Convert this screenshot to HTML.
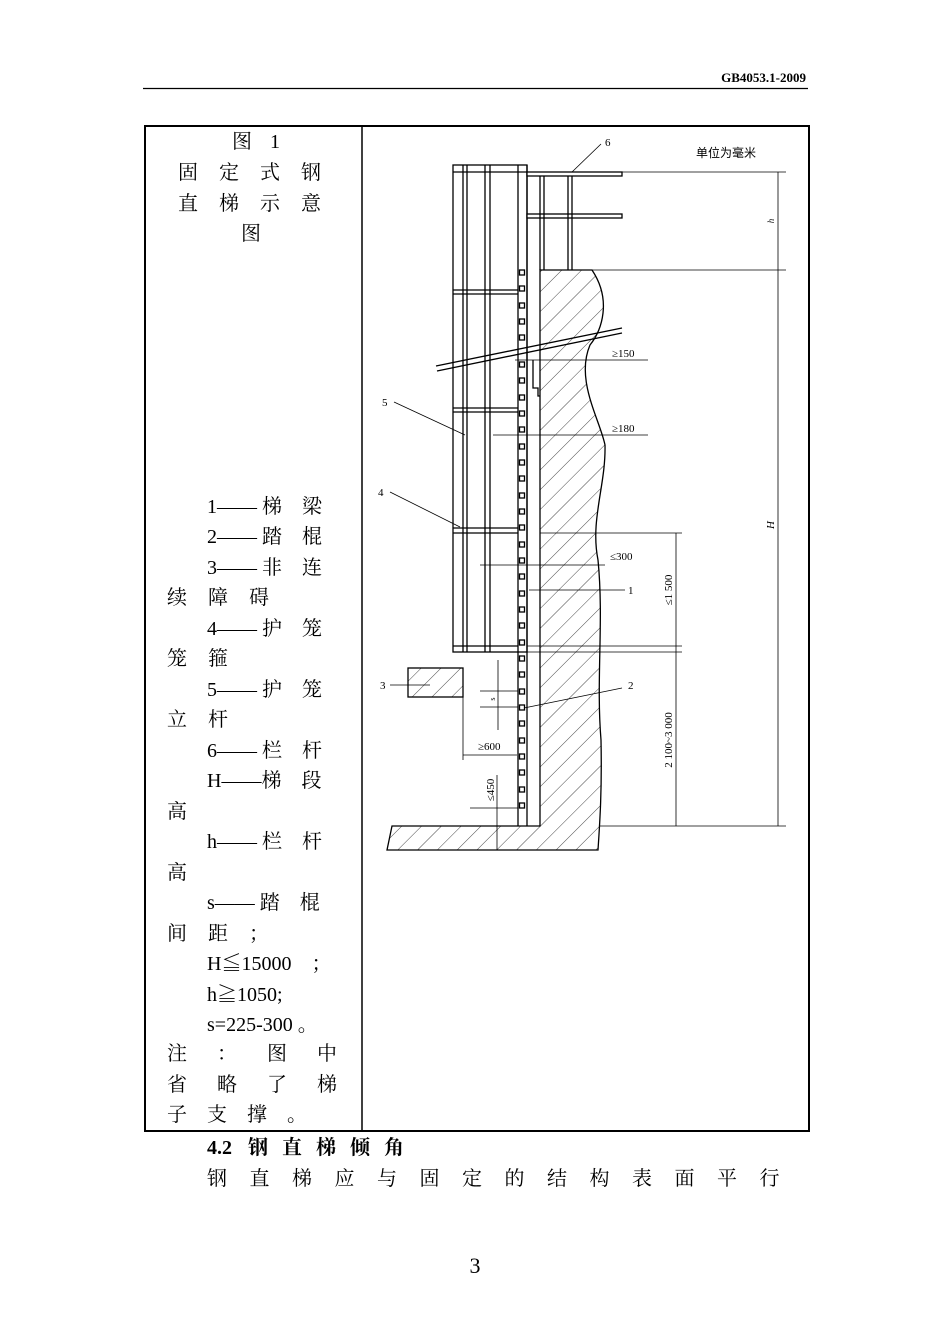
<!DOCTYPE html>
<html><head><meta charset="utf-8"><style>
body{margin:0;width:950px;height:1344px;background:#fff;position:relative;font-family:"Liberation Serif","Noto Serif CJK SC",serif;color:#000;overflow:hidden}
.t{position:absolute;font-size:20px;line-height:24px;white-space:pre}
</style></head><body>
<svg width="950" height="1344" style="position:absolute;left:0;top:0" xmlns="http://www.w3.org/2000/svg">
<defs>
<pattern id="h" patternUnits="userSpaceOnUse" width="14" height="14" patternTransform="rotate(45)">
<line x1="0" y1="0" x2="0" y2="14" stroke="#333" stroke-width="0.9"/></pattern>
</defs>
<text x="806" y="82" font-size="13" font-weight="bold" text-anchor="end" font-family="Liberation Serif">GB4053.1-2009</text>
<line x1="143" y1="88.5" x2="808" y2="88.5" stroke="#000" stroke-width="1.2"/>
<rect x="145" y="126" width="664" height="1005" fill="none" stroke="#000" stroke-width="2"/>
<line x1="362" y1="126" x2="362" y2="1131" stroke="#000" stroke-width="1.5"/>
<g stroke="#000" fill="none" stroke-width="1.3">
<path d="M540,270 L592,270 C612,300 602,330 590,345 C575,380 600,420 605,445 C606,485 590,520 598,560 C604,620 596,680 601,740 C602,790 600,820 598,850 L387,850 L392,826 L540,826 Z" fill="url(#h)"/>
<rect x="408" y="668" width="55" height="29" fill="url(#h)"/>
<rect x="453" y="165" width="74" height="487" fill="#fff"/>
<line x1="453" y1="172" x2="527" y2="172"/>
<line x1="463" y1="165" x2="463" y2="652"/><line x1="467" y1="165" x2="467" y2="652"/>
<line x1="485" y1="165" x2="485" y2="652"/><line x1="490" y1="165" x2="490" y2="652"/>
<line x1="453" y1="290" x2="518" y2="290"/><line x1="453" y1="294" x2="518" y2="294"/>
<line x1="453" y1="408" x2="518" y2="408"/><line x1="453" y1="412" x2="518" y2="412"/>
<line x1="453" y1="528" x2="518" y2="528"/><line x1="453" y1="533" x2="518" y2="533"/>
<line x1="453" y1="646" x2="518" y2="646"/>
<line x1="518" y1="165" x2="518" y2="826"/><line x1="527" y1="165" x2="527" y2="826"/>
<rect x="527" y="172" width="95" height="4" fill="#fff"/>
<rect x="527" y="214" width="95" height="4" fill="#fff"/>
<line x1="540" y1="176" x2="540" y2="270"/><line x1="544" y1="176" x2="544" y2="270"/>
<line x1="568" y1="176" x2="568" y2="270"/><line x1="572" y1="176" x2="572" y2="270"/>
<line x1="436" y1="366" x2="622" y2="328"/><line x1="437" y1="371" x2="622" y2="333"/>
<path d="M533,360 L533,388 L538,388 L538,396 L540,396"/>
</g>
<g fill="#fff" stroke="#000" stroke-width="1.3">
<rect x="519.5" y="270" width="5" height="5"/><rect x="519.5" y="286" width="5" height="5"/><rect x="519.5" y="303" width="5" height="5"/><rect x="519.5" y="319" width="5" height="5"/><rect x="519.5" y="335" width="5" height="5"/><rect x="519.5" y="362" width="5" height="5"/><rect x="519.5" y="378" width="5" height="5"/><rect x="519.5" y="395" width="5" height="5"/><rect x="519.5" y="411" width="5" height="5"/><rect x="519.5" y="427" width="5" height="5"/><rect x="519.5" y="444" width="5" height="5"/><rect x="519.5" y="460" width="5" height="5"/><rect x="519.5" y="476" width="5" height="5"/><rect x="519.5" y="493" width="5" height="5"/><rect x="519.5" y="509" width="5" height="5"/><rect x="519.5" y="525" width="5" height="5"/><rect x="519.5" y="542" width="5" height="5"/><rect x="519.5" y="558" width="5" height="5"/><rect x="519.5" y="574" width="5" height="5"/><rect x="519.5" y="591" width="5" height="5"/><rect x="519.5" y="607" width="5" height="5"/><rect x="519.5" y="623" width="5" height="5"/><rect x="519.5" y="640" width="5" height="5"/><rect x="519.5" y="656" width="5" height="5"/><rect x="519.5" y="672" width="5" height="5"/><rect x="519.5" y="689" width="5" height="5"/><rect x="519.5" y="705" width="5" height="5"/><rect x="519.5" y="721" width="5" height="5"/><rect x="519.5" y="738" width="5" height="5"/><rect x="519.5" y="754" width="5" height="5"/><rect x="519.5" y="770" width="5" height="5"/><rect x="519.5" y="787" width="5" height="5"/><rect x="519.5" y="803" width="5" height="5"/>
</g>
<g stroke="#000" stroke-width="0.8" fill="none">
<line x1="622" y1="172" x2="786" y2="172"/><line x1="592" y1="270" x2="786" y2="270"/><line x1="600" y1="826" x2="786" y2="826"/>
<line x1="778" y1="172" x2="778" y2="826"/>
<line x1="540" y1="533" x2="682" y2="533"/><line x1="527" y1="646" x2="682" y2="646"/><line x1="527" y1="652" x2="682" y2="652"/>
<line x1="676" y1="533" x2="676" y2="826"/>
<line x1="515" y1="360" x2="648" y2="360"/><line x1="493" y1="435" x2="648" y2="435"/><line x1="480" y1="565" x2="605" y2="565"/>
<line x1="529" y1="590" x2="625" y2="590"/><line x1="524" y1="708" x2="622" y2="688"/>
<line x1="390" y1="685" x2="430" y2="685"/>
<line x1="390" y1="492" x2="460" y2="527"/><line x1="394" y1="402" x2="465" y2="435"/><line x1="601" y1="144" x2="572" y2="172"/>
<line x1="463" y1="697" x2="463" y2="760"/><line x1="463" y1="755" x2="517" y2="755"/>
<line x1="497" y1="775" x2="497" y2="850"/><line x1="470" y1="808" x2="518" y2="808"/>
<line x1="498" y1="660" x2="498" y2="730"/><line x1="480" y1="691" x2="518" y2="691"/><line x1="480" y1="707" x2="518" y2="707"/>
</g>
<g font-family="Liberation Serif" font-size="11">
<text x="612" y="357">≥150</text><text x="612" y="432">≥180</text><text x="610" y="560">≤300</text>
<text x="628" y="594">1</text><text x="628" y="689">2</text><text x="380" y="689">3</text><text x="378" y="496">4</text><text x="382" y="406">5</text><text x="605" y="146">6</text>
<text x="478" y="750">≥600</text>
<text transform="translate(672,590) rotate(-90)" text-anchor="middle">≤1 500</text>
<text transform="translate(672,740) rotate(-90)" text-anchor="middle">2 100~3 000</text>
<text transform="translate(494,790) rotate(-90)" text-anchor="middle">≤450</text>
<text transform="translate(774,525) rotate(-90)" text-anchor="middle" font-style="italic">H</text>
<text transform="translate(774,221) rotate(-90)" text-anchor="middle" font-style="italic" font-size="9">h</text>
<text transform="translate(495,699) rotate(-90)" text-anchor="middle" font-size="8">s</text>
<text x="696" y="157" font-family="Noto Sans CJK SC" font-size="12">单位为毫米</text>
</g>
<text x="475" y="1273" font-size="22" text-anchor="middle" font-family="Liberation Serif">3</text>
</svg>
<div class="t" style="left:232px;top:130px">图</div>
<div class="t" style="left:270px;top:130px">1</div>
<div class="t" style="left:178px;top:161px;letter-spacing:21px">固定式钢</div>
<div class="t" style="left:178px;top:192px;letter-spacing:21px">直梯示意</div>
<div class="t" style="left:241px;top:222px">图</div>
<div class="t" style="left:207px;top:495px">1—— 梯　梁</div>
<div class="t" style="left:207px;top:525px">2—— 踏　棍</div>
<div class="t" style="left:207px;top:556px">3—— 非　连</div>
<div class="t" style="left:167px;top:586px;letter-spacing:21px">续障碍</div>
<div class="t" style="left:207px;top:617px">4—— 护　笼</div>
<div class="t" style="left:167px;top:647px;letter-spacing:21px">笼箍</div>
<div class="t" style="left:207px;top:678px">5—— 护　笼</div>
<div class="t" style="left:167px;top:708px;letter-spacing:21px">立杆</div>
<div class="t" style="left:207px;top:739px">6—— 栏　杆</div>
<div class="t" style="left:207px;top:769px">H——梯　段</div>
<div class="t" style="left:167px;top:800px">高</div>
<div class="t" style="left:207px;top:830px">h—— 栏　杆</div>
<div class="t" style="left:167px;top:861px">高</div>
<div class="t" style="left:207px;top:891px">s—— 踏　棍</div>
<div class="t" style="left:167px;top:922px;letter-spacing:21px">间距；</div>
<div class="t" style="left:207px;top:952px">H≦15000　；</div>
<div class="t" style="left:207px;top:983px">h≧1050;</div>
<div class="t" style="left:207px;top:1013px">s=225-300 。</div>
<div class="t" style="left:167px;top:1042px;letter-spacing:30px">注：图中</div>
<div class="t" style="left:167px;top:1073px;letter-spacing:30px">省略了梯</div>
<div class="t" style="left:167px;top:1103px;letter-spacing:20px">子支撑。</div>
<div class="t" style="left:207px;top:1136px;font-weight:bold">4.2</div>
<div class="t" style="left:248px;top:1136px;font-weight:bold;letter-spacing:14px">钢直梯倾角</div>
<div class="t" style="left:207px;top:1167px;letter-spacing:22.5px">钢直梯应与固定的结构表面平行</div>
</body></html>
